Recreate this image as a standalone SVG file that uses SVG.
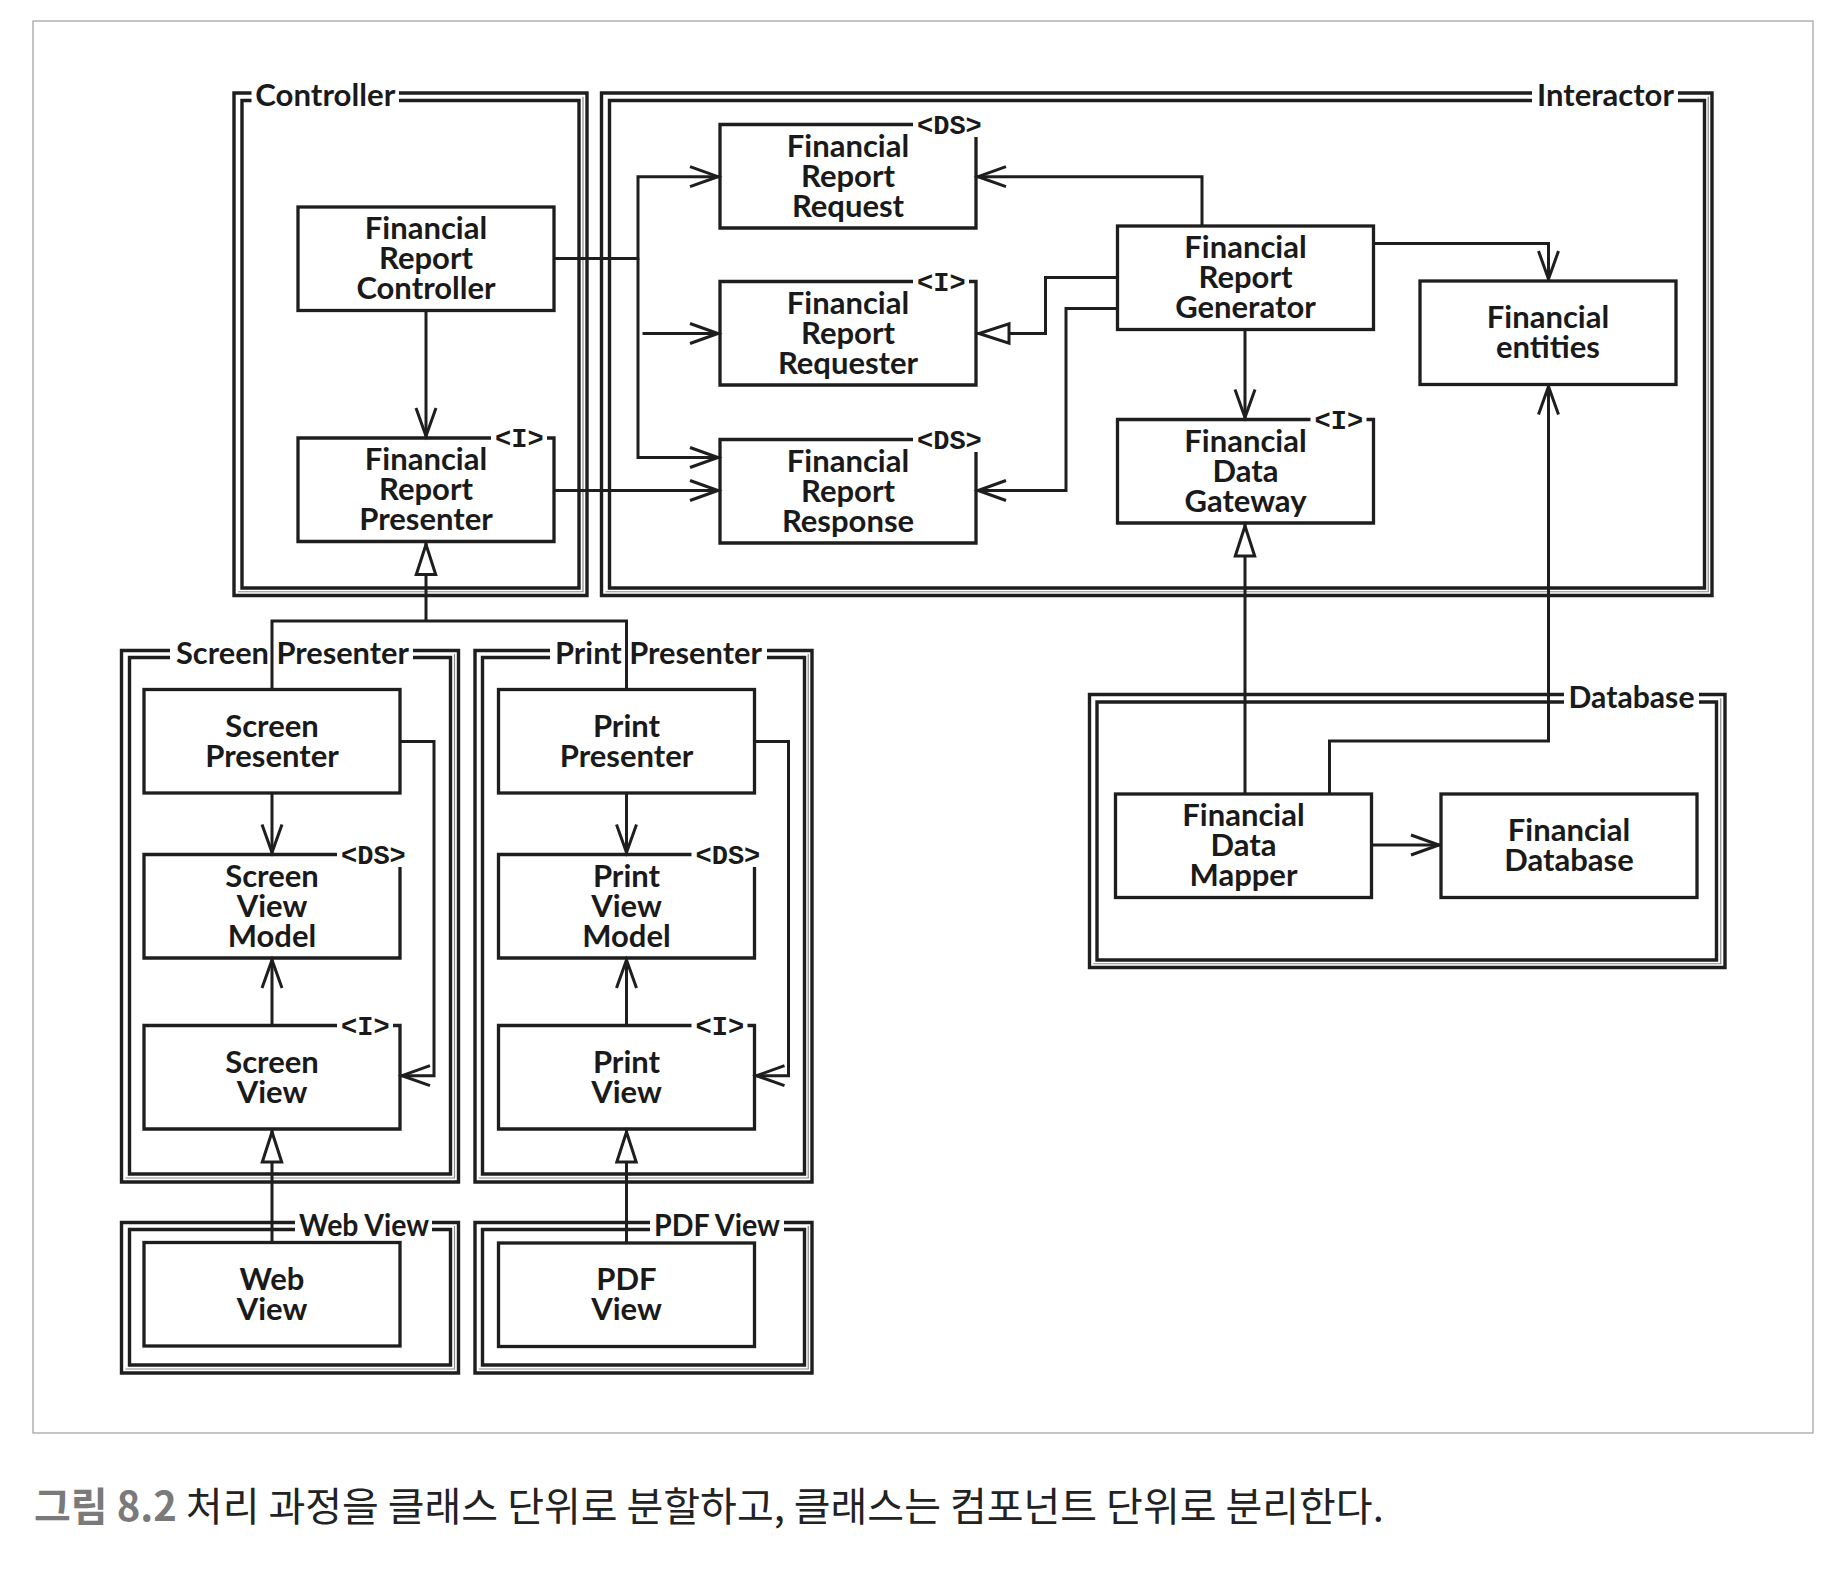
<svg xmlns="http://www.w3.org/2000/svg" width="1832" height="1592" viewBox="0 0 1832 1592">
<style>
.frame{fill:none;stroke:#a6a6a6;stroke-width:1.3}
.pkg{fill:none;stroke:#1e1e1e;stroke-width:3.4}
.sh{fill:none;stroke:#8a8a8a;stroke-width:1.2}
.box{fill:#fff;stroke:#1e1e1e;stroke-width:3.3}
.bx{fill:none;stroke:#1e1e1e;stroke-width:3.3}
.c{fill:none;stroke:#1e1e1e;stroke-width:3}
.t{font-family:Lato,"Noto Sans",sans-serif;font-weight:700;font-size:31px;fill:#1a1a1a;text-anchor:middle}
.pl{font-family:Lato,"Noto Sans",sans-serif;font-weight:700;font-size:31px;fill:#1a1a1a}
.st{font-family:"Liberation Mono","DejaVu Sans Mono",monospace;font-weight:700;font-size:27px;fill:#1a1a1a}
.cap1{font-family:"Noto Sans CJK KR","Noto Sans",sans-serif;font-weight:700;fill:#7a7a7a}
.cap2{font-family:"Noto Sans CJK KR","Noto Sans",sans-serif;font-weight:400;fill:#222}
</style>
<defs>
<marker id="open" viewBox="-32 -13 36 26" refX="0" refY="0" markerWidth="36" markerHeight="26" orient="auto" markerUnits="userSpaceOnUse">
<path d="M-30,-10 L-2,0 L-30,10" fill="none" stroke="#1e1e1e" stroke-width="3"/>
</marker>
<marker id="tri" viewBox="-36 -13 40 26" refX="0" refY="0" markerWidth="40" markerHeight="26" orient="auto" markerUnits="userSpaceOnUse">
<path d="M-3,0 L-33,-9.7 L-33,9.7 Z" fill="#fff" stroke="#1e1e1e" stroke-width="3"/>
</marker>
</defs>
<rect width="1832" height="1592" fill="#fff"/>
<rect class="frame" x="33" y="21" width="1780" height="1412"/>

<g id="packages">
<g id="pkg-controller">
<path class="pkg" d="M251.5,93 H234 V595.5 H587 V93 H399"/>
<path class="pkg" d="M251.5,100.5 H242 V588 H579 V100.5 H399"/>
<path class="sh" d="M583,96.75 V591.75 H238"/>
<text class="pl" x="255.3" y="106" textLength="140" lengthAdjust="spacingAndGlyphs">Controller</text>
</g>
<g id="pkg-interactor">
<path class="pkg" d="M1532,93 H601.5 V595.5 H1712 V93 H1678"/>
<path class="pkg" d="M1532,100.5 H609.5 V588 H1704.5 V100.5 H1678"/>
<path class="sh" d="M1708.25,96.75 V591.75 H605.5"/>
<text class="pl" x="1537" y="106" textLength="137" lengthAdjust="spacingAndGlyphs">Interactor</text>
</g>
<g id="pkg-screen-presenter">
<path class="pkg" d="M170,650.5 H121.5 V1182 H458.5 V650.5 H413"/>
<path class="pkg" d="M170,657.5 H129.5 V1174 H450.5 V657.5 H413"/>
<path class="sh" d="M454.5,654 V1178 H125.5"/>
<text class="pl" x="176" y="663.5" textLength="233" lengthAdjust="spacingAndGlyphs">Screen Presenter</text>
</g>
<g id="pkg-print-presenter">
<path class="pkg" d="M550,650.5 H475 V1182 H812 V650.5 H767"/>
<path class="pkg" d="M550,657.5 H482.5 V1174 H804.5 V657.5 H767"/>
<path class="sh" d="M808.25,654 V1178 H478.75"/>
<text class="pl" x="555" y="663.5" textLength="207" lengthAdjust="spacingAndGlyphs">Print Presenter</text>
</g>
<g id="pkg-web-view">
<path class="pkg" d="M295,1222.5 H121.5 V1373 H458.5 V1222.5 H432"/>
<path class="pkg" d="M295,1229.5 H129.5 V1365 H450.5 V1229.5 H432"/>
<path class="sh" d="M454.5,1226 V1369 H125.5"/>
<text class="pl" x="299" y="1235.5" textLength="130" lengthAdjust="spacingAndGlyphs">Web View</text>
</g>
<g id="pkg-pdf-view">
<path class="pkg" d="M650,1222.5 H475 V1373 H812 V1222.5 H784"/>
<path class="pkg" d="M650,1229.5 H482.5 V1365 H804.5 V1229.5 H784"/>
<path class="sh" d="M808.25,1226 V1369 H478.75"/>
<text class="pl" x="654" y="1235.5" textLength="126" lengthAdjust="spacingAndGlyphs">PDF View</text>
</g>
<g id="pkg-database">
<path class="pkg" d="M1564,694.5 H1089.5 V967.5 H1725 V694.5 H1699"/>
<path class="pkg" d="M1564,702 H1097 V960 H1716.5 V702 H1699"/>
<path class="sh" d="M1720.75,698.25 V963.75 H1093.25"/>
<text class="pl" x="1568.5" y="707.5" textLength="126" lengthAdjust="spacingAndGlyphs">Database</text>
</g>
</g>

<g id="connectors">
<path class="c" d="M554,258.5 H638 V176.7 H720" marker-end="url(#open)"/>
<path class="c" d="M638,258.5 V457.5 H720" marker-end="url(#open)"/>
<path class="c" d="M642.5,333.5 H720" marker-end="url(#open)"/>
<path class="c" d="M554,490.5 H720" marker-end="url(#open)"/>
<path class="c" d="M426,310.5 V438" marker-end="url(#open)"/>
<path class="c" d="M1202,226 V176.7 H976" marker-end="url(#open)"/>
<path class="c" d="M1117.5,277.5 H1045.5 V333.5 H976" marker-end="url(#tri)"/>
<path class="c" d="M1117.5,308.5 H1066 V490.5 H976" marker-end="url(#open)"/>
<path class="c" d="M1373.5,243.5 H1548.5 V281" marker-end="url(#open)"/>
<path class="c" d="M1245,329.5 V419.5" marker-end="url(#open)"/>
<path class="c" d="M1245,794 V523" marker-end="url(#tri)"/>
<path class="c" d="M1329.5,794 V741 H1548.5 V384.5" marker-end="url(#open)"/>
<path class="c" d="M1371.5,845 H1441" marker-end="url(#open)"/>
<path class="c" d="M272,689.5 V621 H626.5 V689.5"/>
<path class="c" d="M426,621 V541.5" marker-end="url(#tri)"/>
<path class="c" d="M272,793 V854.5" marker-end="url(#open)"/>
<path class="c" d="M400,741.5 H434 V1075.7 H400" marker-end="url(#open)"/>
<path class="c" d="M272,1025.5 V958" marker-end="url(#open)"/>
<path class="c" d="M272,1242.5 V1129" marker-end="url(#tri)"/>
<path class="c" d="M626.5,793 V854.5" marker-end="url(#open)"/>
<path class="c" d="M754.5,741.5 H788.5 V1075.7 H754.5" marker-end="url(#open)"/>
<path class="c" d="M626.5,1025.5 V958" marker-end="url(#open)"/>
<path class="c" d="M626.5,1243 V1129" marker-end="url(#tri)"/>
</g>

<g id="n-controller">
<rect class="box" x="298" y="207" width="256" height="103.5"/>
<text class="t"><tspan x="426" y="239.25">Financial</tspan><tspan x="426" y="269.25">Report</tspan><tspan x="426" y="299.25">Controller</tspan></text>
</g>
<g id="n-presenter">
<path class="bx" d="M491,438 H298 V541.5 H554 V438 H547"/>
<text class="st" x="495" y="447">&lt;I&gt;</text>
<text class="t"><tspan x="426" y="470.25">Financial</tspan><tspan x="426" y="500.25">Report</tspan><tspan x="426" y="530.25">Presenter</tspan></text>
</g>
<g id="n-request">
<path class="bx" d="M913,124.5 H720 V228 H976 V137"/>
<text class="st" x="917" y="133.5">&lt;DS&gt;</text>
<text class="t"><tspan x="848" y="156.75">Financial</tspan><tspan x="848" y="186.75">Report</tspan><tspan x="848" y="216.75">Request</tspan></text>
</g>
<g id="n-requester">
<path class="bx" d="M913,281.5 H720 V385 H976 V281.5 H969"/>
<text class="st" x="917" y="290.5">&lt;I&gt;</text>
<text class="t"><tspan x="848" y="313.75">Financial</tspan><tspan x="848" y="343.75">Report</tspan><tspan x="848" y="373.75">Requester</tspan></text>
</g>
<g id="n-response">
<path class="bx" d="M913,439.5 H720 V543 H976 V452"/>
<text class="st" x="917" y="448.5">&lt;DS&gt;</text>
<text class="t"><tspan x="848" y="471.75">Financial</tspan><tspan x="848" y="501.75">Report</tspan><tspan x="848" y="531.75">Response</tspan></text>
</g>
<g id="n-generator">
<rect class="box" x="1117.5" y="226" width="256" height="103.5"/>
<text class="t"><tspan x="1245.5" y="258.25">Financial</tspan><tspan x="1245.5" y="288.25">Report</tspan><tspan x="1245.5" y="318.25">Generator</tspan></text>
</g>
<g id="n-entities">
<rect class="box" x="1420" y="281" width="256" height="103.5"/>
<text class="t"><tspan x="1548" y="328.25">Financial</tspan><tspan x="1548" y="358.25">entities</tspan></text>
</g>
<g id="n-gateway">
<path class="bx" d="M1310.5,419.5 H1117.5 V523 H1373.5 V419.5 H1366.5"/>
<text class="st" x="1314.5" y="428.5">&lt;I&gt;</text>
<text class="t"><tspan x="1245.5" y="451.75">Financial</tspan><tspan x="1245.5" y="481.75">Data</tspan><tspan x="1245.5" y="511.75">Gateway</tspan></text>
</g>
<g id="n-screen-presenter">
<rect class="box" x="144" y="689.5" width="256" height="103.5"/>
<text class="t"><tspan x="272" y="736.75">Screen</tspan><tspan x="272" y="766.75">Presenter</tspan></text>
</g>
<g id="n-screen-view-model">
<path class="bx" d="M337,854.5 H144 V958 H400 V867"/>
<text class="st" x="341" y="863.5">&lt;DS&gt;</text>
<text class="t"><tspan x="272" y="886.75">Screen</tspan><tspan x="272" y="916.75">View</tspan><tspan x="272" y="946.75">Model</tspan></text>
</g>
<g id="n-screen-view">
<path class="bx" d="M337,1025.5 H144 V1129 H400 V1025.5 H393"/>
<text class="st" x="341" y="1034.5">&lt;I&gt;</text>
<text class="t"><tspan x="272" y="1072.75">Screen</tspan><tspan x="272" y="1102.75">View</tspan></text>
</g>
<g id="n-print-presenter">
<rect class="box" x="498.5" y="689.5" width="256" height="103.5"/>
<text class="t"><tspan x="626.5" y="736.75">Print</tspan><tspan x="626.5" y="766.75">Presenter</tspan></text>
</g>
<g id="n-print-view-model">
<path class="bx" d="M691.5,854.5 H498.5 V958 H754.5 V867"/>
<text class="st" x="695.5" y="863.5">&lt;DS&gt;</text>
<text class="t"><tspan x="626.5" y="886.75">Print</tspan><tspan x="626.5" y="916.75">View</tspan><tspan x="626.5" y="946.75">Model</tspan></text>
</g>
<g id="n-print-view">
<path class="bx" d="M691.5,1025.5 H498.5 V1129 H754.5 V1025.5 H747.5"/>
<text class="st" x="695.5" y="1034.5">&lt;I&gt;</text>
<text class="t"><tspan x="626.5" y="1072.75">Print</tspan><tspan x="626.5" y="1102.75">View</tspan></text>
</g>
<g id="n-web-view">
<rect class="box" x="144" y="1242.5" width="256" height="103.5"/>
<text class="t"><tspan x="272" y="1289.75">Web</tspan><tspan x="272" y="1319.75">View</tspan></text>
</g>
<g id="n-pdf-view">
<rect class="box" x="498.5" y="1243" width="256" height="103.5"/>
<text class="t"><tspan x="626.5" y="1290.25">PDF</tspan><tspan x="626.5" y="1320.25">View</tspan></text>
</g>
<g id="n-mapper">
<rect class="box" x="1115.5" y="794" width="256" height="103.5"/>
<text class="t"><tspan x="1243.5" y="826.25">Financial</tspan><tspan x="1243.5" y="856.25">Data</tspan><tspan x="1243.5" y="886.25">Mapper</tspan></text>
</g>
<g id="n-database">
<rect class="box" x="1441" y="794" width="256" height="103.5"/>
<text class="t"><tspan x="1569" y="841.25">Financial</tspan><tspan x="1569" y="871.25">Database</tspan></text>
</g>

<text x="34" y="1521" font-size="40"><tspan class="cap1">그림 8.2</tspan><tspan class="cap2"> 처리 과정을 클래스 단위로 분할하고, 클래스는 컴포넌트 단위로 분리한다.</tspan></text>
</svg>
